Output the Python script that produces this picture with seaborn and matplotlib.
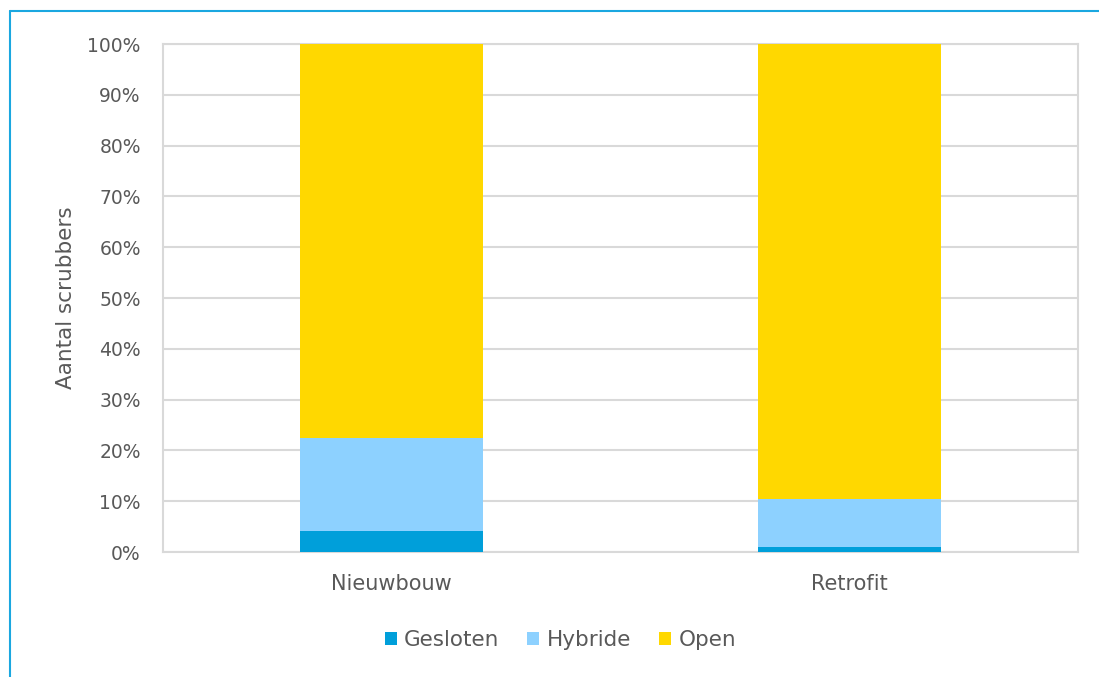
import matplotlib
matplotlib.use("Agg")
import matplotlib.pyplot as plt
import seaborn as sns
import pandas as pd
from matplotlib.lines import Line2D
from matplotlib.patches import Patch

categories = ["Nieuwbouw", "Retrofit"]
gesloten = [4.2, 1.0]
hybride = [18.3, 9.5]
open_ = [77.5, 89.5]
series_names = ["Gesloten", "Hybride", "Open"]
colors = ["#009FDA", "#8DD1FF", "#FFD800"]
yticks = list(range(0, 101, 10))

sns.set_theme(style="white")
plt.rcParams['font.family'] = ['DejaVu Sans']
txt = "#595959"

df = pd.DataFrame({"cat": categories, "Gesloten": gesloten,
                   "Hybride": hybride, "Open": open_})
df["c1"] = df["Gesloten"]
df["c2"] = df["Gesloten"] + df["Hybride"]
df["c3"] = df["c2"] + df["Open"]

fig = plt.figure(figsize=(10.99, 6.77), dpi=100)
ax = fig.add_axes([163/1099, 1-552/677, (1078-163)/1099, (552-44)/677])

for col, c in zip(["c3", "c2", "c1"], [colors[2], colors[1], colors[0]]):
    sns.barplot(data=df, x="cat", y=col, color=c, width=0.4, ax=ax,
                saturation=1, zorder=3, edgecolor="none", linewidth=0)

ax.set_ylim(0, 100)
ax.set_xlim(-0.5, 1.5)
ax.set_yticks(yticks)
ax.set_yticklabels([f"{t}%" for t in yticks], color=txt, fontsize=13.5)
ax.tick_params(axis="x", colors=txt, labelsize=15, length=0, pad=16)
ax.tick_params(axis="y", length=0, pad=16)
ax.set_xlabel("")
ax.set_ylabel("Aantal scrubbers", color=txt, fontsize=15.5, labelpad=8)
ax.grid(axis="y", color="#d9d9d9", linewidth=1.5, zorder=0)
ax.set_axisbelow(True)
for s in ax.spines.values():
    s.set_visible(True)
    s.set_color("#d9d9d9")
    s.set_linewidth(1.5)

handles = [Patch(facecolor=c, edgecolor="none") for c in colors]
leg = fig.legend(handles, series_names, loc="center", bbox_to_anchor=(0.51, 0.055),
                 ncol=3, frameon=False, fontsize=15.5, handlelength=0.55, handleheight=0.55,
                 handletextpad=0.35, columnspacing=1.3)
for t in leg.get_texts():
    t.set_color(txt)

# outer blue frame (top and left)
fig.add_artist(Line2D([10/1099, 1], [1-11/677, 1-11/677], color="#1AA7E0", lw=1.5))
fig.add_artist(Line2D([10/1099, 10/1099], [0, 1-11/677], color="#1AA7E0", lw=1.5))

fig.savefig("out.png", dpi=100)
